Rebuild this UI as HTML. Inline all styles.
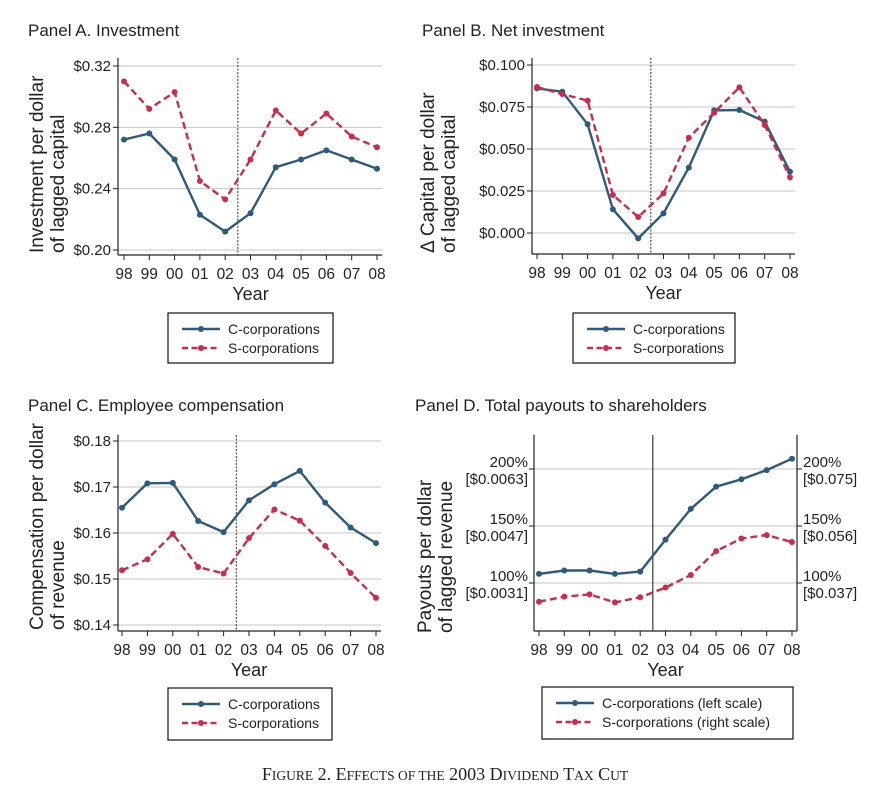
<!DOCTYPE html>
<html><head><meta charset="utf-8">
<style>
html,body{margin:0;padding:0;background:#fff;}
svg{display:block;font-family:"Liberation Sans",Arial,sans-serif;}
</style></head>
<body>
<svg id="fig" width="889" height="808" viewBox="0 0 889 808" xmlns="http://www.w3.org/2000/svg">
<text x="445" y="780" text-anchor="middle" font-family="Liberation Serif, serif" font-size="18" fill="#222">F<tspan font-size="13.5">IGURE</tspan> 2. E<tspan font-size="13.5">FFECTS OF THE</tspan> 2003 D<tspan font-size="13.5">IVIDEND</tspan> T<tspan font-size="13.5">AX</tspan> C<tspan font-size="13.5">UT</tspan></text>
</svg>
<script>
const years = ["98","99","00","01","02","03","04","05","06","07","08"];
const invC = [0.272,0.276,0.259,0.223,0.212,0.224,0.254,0.259,0.265,0.259,0.253];
const invS = [0.310,0.292,0.303,0.245,0.233,0.259,0.291,0.276,0.289,0.274,0.267];
const invTicks = [0.20,0.24,0.28,0.32];
const invTickLabels = ["$0.20","$0.24","$0.28","$0.32"];
const netC = [0.0861,0.0841,0.0647,0.0141,-0.0032,0.0117,0.0389,0.0730,0.0732,0.0663,0.0365];
const netS = [0.0869,0.0827,0.0788,0.0226,0.0095,0.0236,0.0567,0.0716,0.0867,0.0643,0.0331];
const netTicks = [0,0.025,0.05,0.075,0.1];
const netTickLabels = ["$0.000","$0.025","$0.050","$0.075","$0.100"];
const compC = [0.1655,0.1708,0.1709,0.1626,0.1602,0.1671,0.1706,0.1735,0.1666,0.1612,0.1578];
const compS = [0.1519,0.1543,0.1598,0.1526,0.1512,0.1589,0.1651,0.1627,0.1572,0.1513,0.1459];
const compTicks = [0.14,0.15,0.16,0.17,0.18];
const compTickLabels = ["$0.14","$0.15","$0.16","$0.17","$0.18"];
const payC = [108,111,111,108,110,138,165,184.5,191,199,209];
const payS = [83.6,88,90,83,87.5,96,107,128,139,142,136];
const payTicks = [100,150,200];
const payLeftLabels = ["[$0.0031]","[$0.0047]","[$0.0063]"];
const payRightLabels = ["[$0.037]","[$0.056]","[$0.075]"];
const payPctLabels = ["100%","150%","200%"];

const NS="http://www.w3.org/2000/svg";
const svg=document.getElementById('fig');
const BLUE="#2e5a7c", RED="#cc2b4b";
function mk(tag,attrs,parent){const e=document.createElementNS(NS,tag);for(const k in attrs)e.setAttribute(k,attrs[k]);(parent||svg).appendChild(e);return e;}
function txt(x,y,s,size,anchor,parent,extra){const t=mk('text',Object.assign({x:x,y:y,'font-size':size,'text-anchor':anchor||'start',fill:'#222'},extra||{}),parent);t.textContent=s;return t;}

function panel(p){
  const g=mk('g',{});
  
  
  const xs=i=>p.x0+(p.x1-p.x0)*i/(years.length-1);
  const ys=v=>p.yA+(p.yB-p.yA)*(v-p.vA)/(p.vB-p.vA);
  const title=txt(p.titleX,p.titleY,p.title,17,'start',g);
  
  
  p.ticks.forEach((v,i)=>{
    const y=ys(v);
    const gl=mk('line',{x1:p.axL,x2:p.gridR,y1:y,y2:y,stroke:'#c4c4c4','stroke-width':1},g);
    
    
    mk('line',{x1:p.axL-5,x2:p.axL,y1:y,y2:y,stroke:'#222','stroke-width':1},g);
    if(p.dual){
      txt(p.axL-6,y-2,payPctLabels[i],15,'end',g);
      txt(p.axL-6,y+15,payLeftLabels[i],15,'end',g);
      mk('line',{x1:p.axR,x2:p.axR+5,y1:y,y2:y,stroke:'#222','stroke-width':1},g);
      txt(p.axR+6,y-2,payPctLabels[i],15,'start',g);
      txt(p.axR+6,y+15,payRightLabels[i],15,'start',g);
    } else {
      const l=txt(p.axL-7,y+5,p.tickLabels[i],15,'end',g);
      
      
    }
  });
  mk('line',{x1:p.axL,x2:p.axL,y1:p.axT,y2:p.axBot,stroke:'#222','stroke-width':1.2},g);
  mk('line',{x1:p.axL,x2:p.axR,y1:p.axBot,y2:p.axBot,stroke:'#222','stroke-width':1.2},g);
  if(p.dual) mk('line',{x1:p.axR,x2:p.axR,y1:p.axT,y2:p.axBot,stroke:'#222','stroke-width':1.2},g);
  years.forEach((yr,i)=>{
    mk('line',{x1:xs(i),x2:xs(i),y1:p.axBot,y2:p.axBot+5,stroke:'#222','stroke-width':1},g);
    const l=txt(xs(i),p.axBot+24,yr,15.5,'middle',g);
    
    
  });
  const xt=txt((p.x0+p.x1)/2,p.axBot+45,'Year',18,'middle',g);
  
  
  const yt=mk('text',{transform:`translate(${p.ytX},${p.ytY}) rotate(-90)`,'font-size':19,fill:'#222'},g);
  
  
  const t1=mk('tspan',{x:0,y:0},yt);t1.textContent=p.yt1;
  const t2=mk('tspan',{x:0,y:21},yt);t2.textContent=p.yt2;
  const vx=(xs(4)+xs(5))/2;
  const vl=mk('line',{x1:vx,x2:vx,y1:p.axT,y2:p.axBot,stroke:p.dual?'#111':'#333','stroke-width':1,'stroke-dasharray':p.dual?'none':'2,1.5'},g);
  
  
  [[p.c,BLUE,'none','series-c-corporations'],[p.s,RED,'7,4','series-s-corporations']].forEach(([arr,col,dash,nm])=>{
    const pts=arr.map((v,i)=>xs(i).toFixed(1)+','+ys(v).toFixed(1)).join(' ');
    const pl=mk('polyline',{points:pts,fill:'none',stroke:col,'stroke-width':2.4,'stroke-dasharray':dash,'stroke-linejoin':'round'},g);
    
    
    arr.forEach((v,i)=>{
      const c=mk('circle',{cx:xs(i),cy:ys(v),r:3,fill:col},g);
      
      
    });
  });
  const L=p.leg;
  const lg=mk('g',{},g);
  
  
  mk('rect',{x:L.x,y:L.y,width:L.w,height:L.h,fill:'#fff',stroke:'#111','stroke-width':1.2},lg);
  [[BLUE,'none',p.l1,16],[RED,'6,3.5',p.l2,35]].forEach(([col,dash,lab,dy])=>{
    const e=mk('g',{},lg);
    
    
    mk('line',{x1:L.x+14,x2:L.x+52,y1:L.y+dy,y2:L.y+dy,stroke:col,'stroke-width':2.4,'stroke-dasharray':dash},e);
    mk('circle',{cx:L.x+33,cy:L.y+dy,r:3,fill:col},e);
    txt(L.x+60,L.y+dy+5,lab,14,'start',e);
  });
}

panel({name:'panel-a-investment',title:'Panel A. Investment',titleX:28,titleY:36,
  x0:124,x1:377,axL:118,axR:382,gridR:382,axT:58,axBot:255,yA:250,yB:66,vA:0.20,vB:0.32,
  ticks:invTicks,tickLabels:invTickLabels,c:invC,s:invS,ytX:43,ytY:253,yt1:'Investment per dollar',yt2:'of lagged capital',
  leg:{x:168,y:313,w:165,h:50},l1:'C-corporations',l2:'S-corporations'});
panel({name:'panel-b-net-investment',title:'Panel B.  Net investment',titleX:422,titleY:36,
  x0:537,x1:790,axL:532,axR:795,gridR:795,axT:58,axBot:254,yA:233,yB:65,vA:0,vB:0.1,
  ticks:netTicks,tickLabels:netTickLabels,c:netC,s:netS,ytX:434,ytY:253,yt1:'\u0394 Capital per dollar',yt2:'of lagged capital',
  leg:{x:573,y:313,w:162,h:50},l1:'C-corporations',l2:'S-corporations'});
panel({name:'panel-c-employee-compensation',title:'Panel C. Employee compensation',titleX:28,titleY:411,
  x0:122,x1:376,axL:118,axR:381,gridR:381,axT:435,axBot:631,yA:625,yB:441,vA:0.14,vB:0.18,
  ticks:compTicks,tickLabels:compTickLabels,c:compC,s:compS,ytX:43,ytY:630,yt1:'Compensation per dollar',yt2:'of revenue',
  leg:{x:168,y:688,w:164,h:52},l1:'C-corporations',l2:'S-corporations'});
panel({name:'panel-d-total-payouts',title:'Panel D. Total payouts to shareholders',titleX:415,titleY:411,dual:true,
  x0:539,x1:792,axL:534,axR:797,gridR:797,axT:435,axBot:631,yA:583,yB:469,vA:100,vB:200,
  ticks:payTicks,c:payC,s:payS,ytX:431,ytY:633,yt1:'Payouts per dollar',yt2:'of lagged revenue',
  leg:{x:542,y:687,w:251,h:52},l1:'C-corporations (left scale)',l2:'S-corporations (right scale)'});
</script>
</body></html>
